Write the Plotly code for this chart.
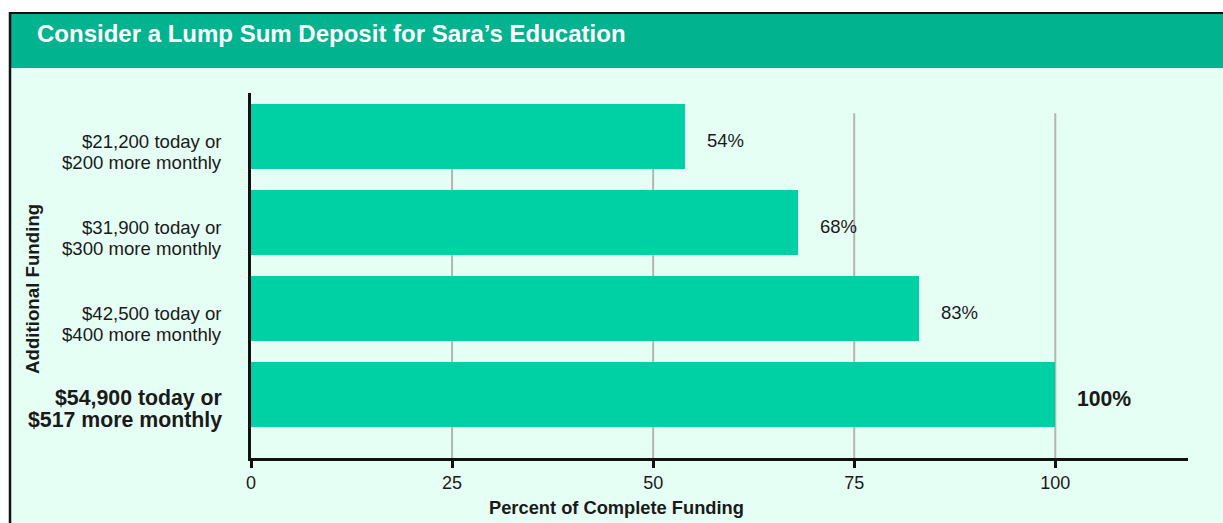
import plotly.graph_objects as go

# Funding scenarios (top to bottom) and the share of the goal each one covers
scenarios = [
    "$21,200 today or<br>$200 more monthly",
    "$31,900 today or<br>$300 more monthly",
    "$42,500 today or<br>$400 more monthly",
    "$54,900 today or<br>$517 more monthly",
]
percent_funded = [54, 68, 83, 100]
highlight = [False, False, False, True]
x_ticks = [0, 25, 50, 75, 100]

TITLE = "Consider a Lump Sum Deposit for Sara\u2019s Education"
X_TITLE = "Percent of Complete Funding"
Y_TITLE = "Additional Funding"

W, H = 1223, 523
L, R, T, B = 251, 35, 93, 65          # plot area margins in px
PLOT_W = W - L - R
PLOT_H = H - T - B

FONT = "Arial, Liberation Sans, Helvetica, sans-serif"
BAR = "#00D1A4"
HEADER = "#01B38F"
PANEL = "#E6FFF5"
GRID = "#B4B4B4"
INK = "#1A1A1A"


def px_x(px):
    return (px - L) / PLOT_W


def px_y(py):
    return (H - B - py) / PLOT_H


y_pos = list(range(len(scenarios)))

fig = go.Figure(
    go.Bar(
        x=percent_funded,
        y=y_pos,
        orientation="h",
        width=0.756,
        marker=dict(color=BAR, line=dict(width=0)),
        hoverinfo="skip",
    )
)

shapes = [
    # panel background and header band
    dict(type="rect", xref="paper", yref="paper", x0=px_x(9), x1=px_x(W + 5),
         y0=px_y(H + 5), y1=px_y(13), fillcolor=PANEL, line=dict(width=0), layer="below"),
    dict(type="rect", xref="paper", yref="paper", x0=px_x(9), x1=px_x(W + 5),
         y0=px_y(68), y1=px_y(13), fillcolor=HEADER, line=dict(width=0), layer="below"),
    # frame edges
    dict(type="line", xref="paper", yref="paper", x0=px_x(9), x1=px_x(W + 5),
         y0=px_y(13), y1=px_y(13), line=dict(color="#111111", width=2)),
    dict(type="line", xref="paper", yref="paper", x0=px_x(10), x1=px_x(10),
         y0=px_y(12), y1=px_y(H + 5), line=dict(color="#111111", width=2.5)),
]

# vertical grid lines behind the bars
for v in x_ticks[1:]:
    shapes.append(dict(type="line", xref="x", yref="y", x0=v, x1=v, y0=-0.27, y1=3.738,
                       line=dict(color=GRID, width=2), layer="below"))

annotations = [
    dict(text=f"<b>{TITLE}</b>", xref="paper", yref="paper", x=px_x(35), y=px_y(33),
         xanchor="left", yanchor="middle", showarrow=False,
         font=dict(family=FONT, size=24, color="white")),
    dict(text=f"<b>{X_TITLE}</b>", xref="paper", yref="paper", x=px_x(616), y=px_y(507),
         xanchor="center", yanchor="middle", showarrow=False,
         font=dict(family=FONT, size=18.3, color=INK)),
    dict(text=f"<b>{Y_TITLE}</b>", xref="paper", yref="paper", x=px_x(32), y=px_y(289),
         xanchor="center", yanchor="middle", showarrow=False, textangle=-90,
         font=dict(family=FONT, size=18.7, color=INK)),
]

for i, (label, val, hi) in enumerate(zip(scenarios, percent_funded, highlight)):
    # category label to the left of the axis, one line at a time
    lines = label.split("<br>")
    shifts = [-3.5, -25.5] if hi else [-4.5, -25.5]
    for line, dy in zip(lines, shifts):
        annotations.append(dict(
            text=f"<b>{line}</b>" if hi else line,
            xref="paper", yref="y", x=0, y=i, xanchor="right", yanchor="middle",
            xshift=-27, yshift=dy, showarrow=False,
            font=dict(family=FONT, size=21.3 if hi else 18.6, color=INK),
        ))
    # value label just past the end of the bar
    annotations.append(dict(
        text=f"<b>{val}%</b>" if hi else f"{val}%",
        xref="x", yref="y", x=val, y=i, xanchor="left", yanchor="middle",
        xshift=20, yshift=-4, showarrow=False,
        font=dict(family=FONT, size=21.2 if hi else 18.5, color=INK),
    ))

fig.update_layout(
    width=W, height=H,
    margin=dict(l=L, r=R, t=T, b=B, autoexpand=False),
    paper_bgcolor="white",
    plot_bgcolor="rgba(0,0,0,0)",
    showlegend=False,
    bargap=0,
    shapes=shapes,
    annotations=annotations,
    xaxis=dict(
        range=[0, 116.5],
        tickvals=x_ticks,
        ticktext=[str(v) for v in x_ticks],
        showgrid=False, zeroline=False,
        showline=True, linecolor="#111111", linewidth=2.5,
        ticks="outside", ticklen=7, tickwidth=2.5, tickcolor="#111111",
        tickfont=dict(family=FONT, size=18, color=INK),
        fixedrange=True,
    ),
    yaxis=dict(
        range=[3.738, -0.506],
        showticklabels=False,
        showgrid=False, zeroline=False,
        showline=True, linecolor="#111111", linewidth=2.5,
        ticks="",
        fixedrange=True,
    ),
)

fig.write_html("out.html", config={"displayModeBar": False})
